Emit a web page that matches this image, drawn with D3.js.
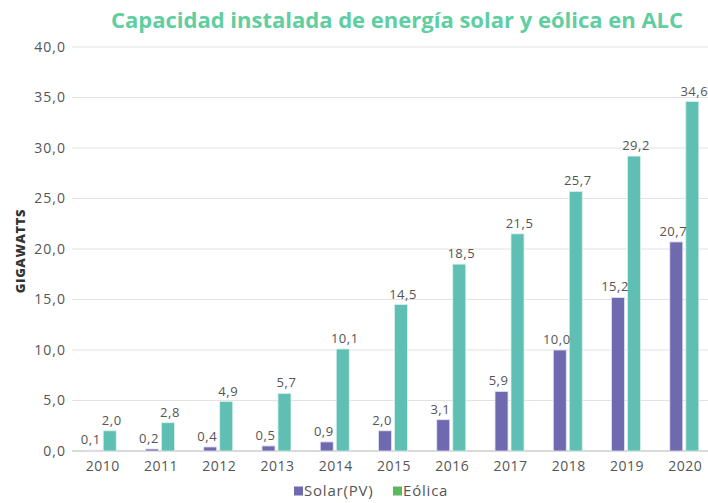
<!DOCTYPE html>
<html>
<head>
<meta charset="utf-8">
<script src="https://cdn.jsdelivr.net/npm/d3@7"></script>
<style>
  body { margin: 0; background: #fff; }
  text { font-family: "Open Sans", sans-serif; }
</style>
</head>
<body>
<svg id="chart"></svg>
<script>
"use strict";

const width = 708;
const height = 503;

const years = ["2010", "2011", "2012", "2013", "2014", "2015", "2016", "2017", "2018", "2019", "2020"];
const solar = [0.1, 0.2, 0.4, 0.5, 0.9, 2.0, 3.1, 5.9, 10.0, 15.2, 20.7];
const eolica = [2.0, 2.8, 4.9, 5.7, 10.1, 14.5, 18.5, 21.5, 25.7, 29.2, 34.6];
const y_ticks = [0, 5, 10, 15, 20, 25, 30, 35, 40];
const series_names = ["Solar(PV)", "Eólica"];

const solar_color = "#6f6aaf";
const eolica_color = "#5ebfb2";
const text_color = "#555555";

const fmt = v => v.toFixed(1).replace(".", ",");

const svg = d3.select("#chart")
    .attr("width", width)
    .attr("height", height);

const x = d3.scaleBand()
    .domain(years)
    .range([72, 714])
    .paddingInner(0.42)
    .paddingOuter(0.22);

const y = d3.scaleLinear()
    .domain([0, 40])
    .range([451, 47]);

const bar_w = 13;
const gap = 3;

// grid
svg.append("g")
    .selectAll("line")
    .data(y_ticks)
    .enter()
    .append("line")
    .attr("x1", 72)
    .attr("x2", width)
    .attr("y1", d => y(d))
    .attr("y2", d => y(d))
    .attr("stroke", d => d === 0 ? "#d9d9d9" : "#e2e2e2")
    .attr("stroke-width", d => d === 0 ? 2 : 1);

// y tick labels
svg.append("g")
    .selectAll("text")
    .data(y_ticks)
    .enter()
    .append("text")
    .attr("x", 66)
    .attr("y", d => y(d))
    .attr("dy", "0.35em")
    .attr("text-anchor", "end")
    .style("font-size", "14px")
    .style("letter-spacing", "1px")
    .style("fill", text_color)
    .text(d => fmt(d));

// y axis title
svg.append("text")
    .attr("transform", `translate(25, 251) rotate(-90)`)
    .attr("text-anchor", "middle")
    .style("font-size", "13px")
    .style("font-weight", "800")
    .style("fill", "#333")
    .style("letter-spacing", "0.6px")
    .text("GIGAWATTS");

const center = d => x(d) + x.bandwidth() / 2;

// solar bars
svg.append("g")
    .selectAll("rect")
    .data(years)
    .enter()
    .append("rect")
    .attr("x", d => center(d) - gap / 2 - bar_w)
    .attr("y", (d, i) => y(solar[i]))
    .attr("width", bar_w)
    .attr("height", (d, i) => y(0) - y(solar[i]))
    .attr("fill", (d, i) => i === 0 ? "#c9c6e2" : solar_color)
    .attr("stroke", "#e4e3f1")
    .attr("stroke-width", 0.8);

// eolica bars
svg.append("g")
    .selectAll("rect")
    .data(years)
    .enter()
    .append("rect")
    .attr("x", d => center(d) + gap / 2)
    .attr("y", (d, i) => y(eolica[i]))
    .attr("width", bar_w)
    .attr("height", (d, i) => y(0) - y(eolica[i]))
    .attr("fill", eolica_color)
    .attr("stroke", "#d9f1ed")
    .attr("stroke-width", 0.8);

// value labels
svg.append("g")
    .selectAll("text")
    .data(years)
    .enter()
    .append("text")
    .attr("x", d => center(d) - gap / 2 - bar_w / 2 - 3)
    .attr("y", (d, i) => y(solar[i]) - 6)
    .attr("text-anchor", "middle")
    .style("font-size", "13px")
    .style("letter-spacing", "0.5px")
    .style("fill", text_color)
    .text((d, i) => fmt(solar[i]));

svg.append("g")
    .selectAll("text")
    .data(years)
    .enter()
    .append("text")
    .attr("x", d => center(d) + gap / 2 + bar_w / 2 + 2)
    .attr("y", (d, i) => y(eolica[i]) - 6)
    .attr("text-anchor", "middle")
    .style("font-size", "13px")
    .style("letter-spacing", "0.5px")
    .style("fill", text_color)
    .text((d, i) => fmt(eolica[i]));

// x labels
svg.append("g")
    .selectAll("text")
    .data(years)
    .enter()
    .append("text")
    .attr("x", d => center(d) + 1)
    .attr("y", 471)
    .attr("text-anchor", "middle")
    .style("font-size", "14px")
    .style("letter-spacing", "0.5px")
    .style("fill", text_color)
    .text(d => d);

// title
svg.append("text")
    .attr("x", 397)
    .attr("y", 28)
    .attr("text-anchor", "middle")
    .style("font-size", "22px")
    .style("font-weight", "bold")
    .style("fill", "#5fcea0")
    .text("Capacidad instalada de energía solar y eólica en ALC");

// legend
const legend_colors = [solar_color, "#5cb85c"];
const legend_x = [294, 393];
const legend = svg.append("g")
    .selectAll("g")
    .data(series_names)
    .enter()
    .append("g")
    .attr("transform", (d, i) => `translate(${legend_x[i]}, 491)`);

legend.append("rect")
    .attr("x", 0)
    .attr("y", -4.5)
    .attr("width", 9)
    .attr("height", 9)
    .attr("fill", (d, i) => legend_colors[i]);

legend.append("text")
    .attr("x", 10)
    .attr("y", 0)
    .attr("dy", "0.35em")
    .style("font-size", "15px")
    .style("letter-spacing", "0.8px")
    .style("fill", text_color)
    .text(d => d);
</script>
</body>
</html>
